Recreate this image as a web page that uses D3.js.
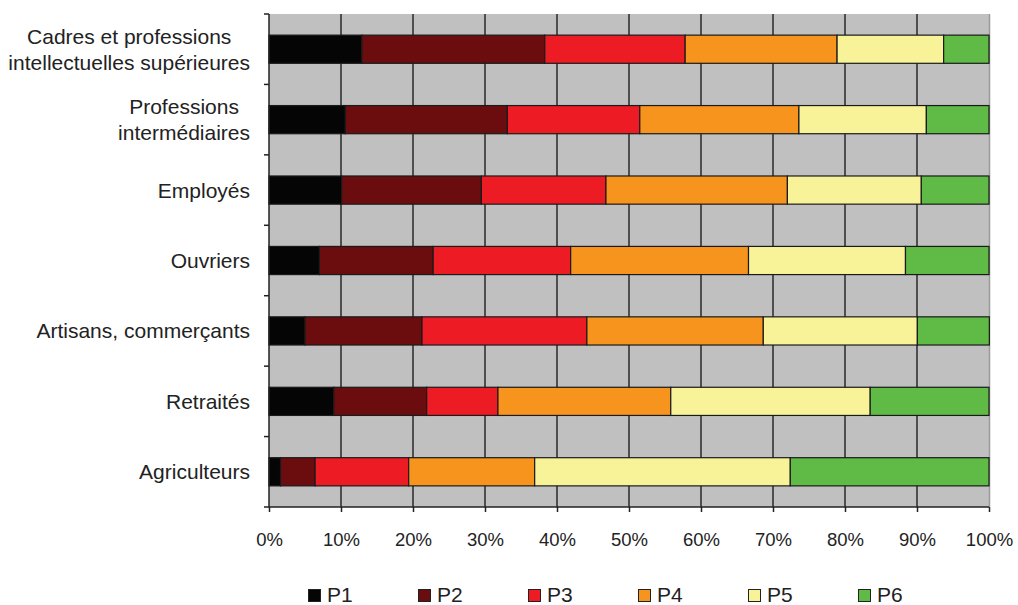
<!DOCTYPE html>
<html><head><meta charset="utf-8">
<script src="https://cdn.jsdelivr.net/npm/d3@7"></script>
<style>body{margin:0;background:#fff;} text{font-family:"Liberation Sans",Arial,sans-serif;}</style>
</head><body><svg id="c" width="1018" height="605"></svg>
<script>
const categories = [
  ["Cadres et professions","intellectuelles supérieures"],
  ["Professions","intermédiaires"],
  ["Employés"],
  ["Ouvriers"],
  ["Artisans, commerçants"],
  ["Retraités"],
  ["Agriculteurs"]
];
const seriesNames = ["P1","P2","P3","P4","P5","P6"];
const P1 = [12.9, 10.6, 10.1, 7.0, 5.0, 9.0, 1.6];
const P2 = [25.4, 22.5, 19.4, 15.8, 16.25, 12.9, 4.8];
const P3 = [19.5, 18.4, 17.3, 19.1, 22.9, 9.9, 13.0];
const P4 = [21.1, 22.1, 25.2, 24.7, 24.5, 24.0, 17.5];
const P5 = [14.8, 17.7, 18.6, 21.8, 21.4, 27.7, 35.5];
const P6 = [6.3, 8.7, 9.4, 11.6, 10.0, 16.5, 27.6];
const xTicks = [0,10,20,30,40,50,60,70,80,90,100];
const colors = ["#050505","#6b0d0f","#ed1c24","#f7941d","#f8f399","#5fba46"];

const series = [P1,P2,P3,P4,P5,P6];
const rows = categories.map((c,i)=>{ const o={key:c.join(" ")}; seriesNames.forEach((s,j)=>o[s]=series[j][i]); return o;});
const stack = d3.stack().keys(seriesNames)(rows);

const svg = d3.select("#c");
const L=269, R=989, T=14, B=507;
const x = d3.scaleLinear().domain([0,100]).range([L,R]);
const y = d3.scaleBand().domain(rows.map(r=>r.key)).range([T,B]).paddingInner(0.6).paddingOuter(0.3);
const yb = d3.scaleBand().domain(rows.map(r=>r.key)).range([T,B]);

// background
svg.append("rect").attr("x",L).attr("y",T).attr("width",R-L).attr("height",B-T).attr("fill","#c0c0c0");
// gridlines
svg.append("g").selectAll("line").data(xTicks.slice(1,-1)).join("line")
  .attr("x1",d=>x(d)).attr("x2",d=>x(d)).attr("y1",T).attr("y2",B)
  .attr("stroke","#2a2a2a").attr("stroke-width",1.5);
svg.append("line").attr("x1",R+0.5).attr("x2",R+0.5).attr("y1",T).attr("y2",B).attr("stroke","#9a9a9a").attr("stroke-width",1.5);

// bars
stack.forEach((s,j)=>{
  svg.append("g").selectAll("rect").data(s).join("rect")
    .attr("x",d=>x(d[0])).attr("width",d=>x(d[1])-x(d[0]))
    .attr("y",d=>y(d.data.key)).attr("height",y.bandwidth())
    .attr("fill",colors[j]).attr("stroke","#1a1a1a").attr("stroke-width",1.2);
});

// x axis
const xa = svg.append("g").attr("transform",`translate(0,${B})`)
  .call(d3.axisBottom(x).tickValues(xTicks).tickFormat(d=>d+"%").tickSize(5).tickPadding(21));
xa.select(".domain").attr("stroke","#222").attr("stroke-width",1.5).attr("d",`M${L},0H${R}`);
xa.selectAll(".tick line").attr("stroke","#222").attr("stroke-width",1.5);
xa.selectAll("text").attr("font-size",18.5).attr("fill","#222").attr("font-family","Liberation Sans, Arial, sans-serif");

// y axis line + ticks at band boundaries
svg.append("line").attr("x1",L).attr("x2",L).attr("y1",T).attr("y2",B).attr("stroke","#222").attr("stroke-width",1.5);
const bounds = rows.map(r=>yb(r.key)).concat([B]);
svg.append("g").selectAll("line").data(bounds).join("line")
  .attr("x1",L-5).attr("x2",L).attr("y1",d=>d).attr("y2",d=>d).attr("stroke","#222").attr("stroke-width",1.5);

// y labels (centered multi-line blocks, right edge at 250)
const lab = svg.append("g");
categories.forEach((lines,i)=>{
  const cy = y(rows[i].key)+y.bandwidth()/2;
  const lh = 26;
  const t = lab.append("text").attr("font-size",21).attr("fill","#222").attr("text-anchor","middle");
  lines.forEach((ln,k)=>{
    t.append("tspan").attr("x",0).attr("y",cy + (k-(lines.length-1)/2)*lh + 7.5).text(ln);
  });
  const w = t.node().getBBox().width;
  t.attr("transform",`translate(${250-w/2},0)`);
});

// legend
const lg = svg.append("g");
seriesNames.forEach((s,j)=>{
  const lx = 308 + j*110;
  lg.append("rect").attr("x",lx+0.5).attr("y",589.5).attr("width",12).attr("height",12)
    .attr("fill",colors[j]).attr("stroke","#222").attr("stroke-width",1);
  lg.append("text").attr("x",lx+19).attr("y",601.5).attr("font-size",21).attr("fill","#222").text(s);
});
</script></body></html>
